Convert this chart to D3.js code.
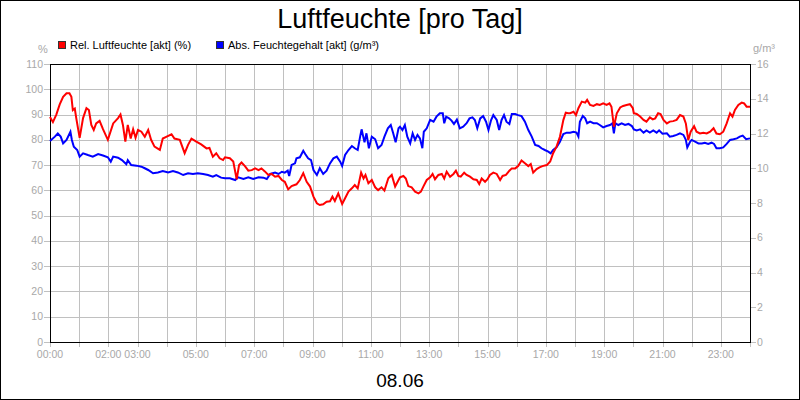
<html>
<head>
<meta charset="utf-8">
<title>Luftfeuchte</title>
<style>
  body { margin: 0; background: #fff; }
  text { font-family: Arial, "Liberation Sans", sans-serif; }
</style>
</head>
<body>
<div id="chart"></div>
<script src="https://cdn.jsdelivr.net/npm/d3@7"></script>
<script>
(function(){
  "use strict";

  var title = "Luftfeuchte [pro Tag]",
      dateLabel = "08.06";

  var seriesNames = ["Rel. Luftfeuchte [akt] (%)", "Abs. Feuchtegehalt [akt] (g/m\u00b3)"];

  // minutes since 00:00 and values
  var relMinutes = [0,6,13,20,27,34,40,44,47,51,54,61,68,75,80,85,90,95,102,109,119,130,140,145,150,155,160,166,171,176,181,188,195,202,208,215,226,232,239,250,256,267,277,284,291,301,311,322,328,335,342,349,356,
    360,370,377,384,389,394,401,408,415,422,429,435,442,449,456,463,470,477,483,490,497,507,514,521,528,535,542,549,555,562,569,576,581,586,593,601,607,614,621,627,633,640,645,649,655,662,669,675,682,688,696,703,710,717,
    720,727,732,737,744,751,758,763,768,775,782,787,792,799,806,811,816,823,830,835,840,845,852,857,864,871,878,883,888,895,900,905,912,919,926,931,938,945,950,957,963,970,977,984,989,994,1001,1007,1013,1022,1029,1035,1042,1049,1056,1061,1066,
    1070,1077,1082,1087,1094,1101,1105,1111,1118,1125,1131,1138,1145,1151,1155,1160,1166,1173,1179,1186,1193,1199,1201,1207,1214,1221,1227,1234,1240,1245,1251,1256,1262,1269,1275,1282,1289,1296,1303,1308,1313,1318,1325,1330,1337,1344,1351,1358,1365,1371,1378,1385,1392,1399,1404,1409,1416,1423,1428,1433,1440];
  var relValues = [89,87,90,94,97,98.4,98.4,97,91.8,92.4,88.6,80.8,88.6,92.5,91.8,85.9,83.9,86.5,87.5,84.2,80,86.5,88.6,90,85.9,79.3,85.9,80.5,84.2,80.8,83.9,83.2,81.2,83.9,80,77.3,76,80.5,81.2,82.2,80.5,80,74.7,78,80.5,79.3,78.2,76.6,76.8,73.3,74.7,72.7,72,
    73.1,72.7,71.4,64.4,70,71,69.6,67.8,68,68.7,68,68.7,67.5,66.1,66.5,65.4,65.7,64.1,63.4,60.4,61.7,62.4,64.1,66.8,63.4,61.5,57.5,54.9,54.2,54.5,55.5,55.7,57.5,55.8,58.8,54.6,56.9,59.5,60.8,62.1,60.8,67,64.7,66.1,62.8,64.1,61.2,60.1,61.2,59.9,64.8,66.1,61.5,64.1,
    65.2,65.7,64.7,61.7,61.2,59.5,58.8,59.5,61.5,64.1,65.2,66.5,64.4,66.1,66.5,64.7,67.4,65.4,66.5,67.8,65.7,65.4,67,66.1,65.4,64.4,64.1,62.5,64.7,63.4,64.4,66.1,67,66.5,64.1,65.7,66.1,67.8,68.7,68.7,69.6,71.8,70.7,69.6,70.4,67,68.4,69.1,69.6,70,71.4,74.7,77.3,81.2,87.8,90.7,90.5,
    90.5,91.1,89.8,92.5,95.1,94.7,95.8,93.8,93.4,94.1,93.8,94.4,93.8,94.4,93.1,85.2,90.5,92.8,93.4,93.8,94.1,92.5,90.5,90.2,89.2,87.9,87.2,88.9,88.1,88.5,90.5,90.2,87.9,86.5,87.2,87.4,87.9,89.8,89.2,86.5,79.9,83.2,85.4,83.2,82.5,82.8,82.5,83.2,84.6,82.5,82.2,83.2,86.5,90.5,89.2,91.8,93.8,94.7,94.4,93.1,93.1];

  var absMinutes = [0,10,16,22,27,34,42,45,49,56,61,68,78,88,99,109,119,125,130,140,148,157,160,167,178,188,195,202,212,222,232,243,253,263,274,284,294,304,315,325,335,342,352,
    360,370,381,387,398,408,418,429,439,446,453,463,470,477,483,489,492,497,504,507,514,521,525,531,537,542,549,555,562,569,576,583,590,597,601,607,614,621,627,633,638,641,647,651,656,662,669,675,682,688,695,701,706,711,717,
    720,725,730,735,741,746,751,756,761,766,769,775,782,789,795,802,808,811,815,821,826,831,837,843,850,857,863,869,874,879,885,891,897,902,907,912,919,924,929,934,939,945,950,957,963,970,977,984,991,998,1005,1011,1018,1025,1030,1035,1042,1049,1056,1063,
    1070,1077,1083,1087,1090,1096,1101,1105,1111,1118,1125,1131,1138,1145,1152,1157,1160,1163,1169,1176,1183,1190,1197,1201,1207,1214,1221,1227,1234,1241,1248,1253,1260,1269,1275,1282,1289,1296,1303,1308,1311,1317,1320,1327,1334,1341,1347,1354,1361,1366,1371,1378,1385,1392,1399,1406,1413,1419,1425,1432,1440];
  var absValues = [11.57,11.82,12.0,11.82,11.43,11.63,12.1,11.63,11.24,11.05,10.67,10.86,10.76,10.67,10.82,10.73,10.63,10.38,10.67,10.61,10.47,10.23,10.47,10.19,10.15,10.09,10.0,9.9,9.71,9.76,9.84,9.76,9.84,9.76,9.61,9.71,9.67,9.71,9.67,9.61,9.51,9.61,9.46,
    9.42,9.42,9.32,9.48,9.38,9.48,9.38,9.48,9.46,9.38,9.67,9.75,9.67,9.8,9.75,9.86,9.55,10.19,10.28,10.57,10.63,11.01,10.82,10.57,10.47,9.9,9.61,10.0,9.67,9.86,10.28,10.57,10.67,10.38,10.13,10.76,11.05,11.28,11.15,11.05,11.82,12.24,11.49,12.01,11.15,11.82,11.67,11.15,11.34,11.82,12.3,12.49,12.01,11.49,12.3,
    12.39,12.2,12.49,11.82,11.43,12.01,11.63,11.92,11.72,11.15,12.1,12.3,12.78,12.68,12.97,13.16,13.16,12.59,12.97,12.87,12.74,12.55,12.8,12.3,12.39,12.59,12.87,12.93,12.78,12.3,12.87,13.0,12.68,12.2,12.74,13.06,12.78,12.2,12.78,13.06,12.68,12.55,13.12,13.12,13.06,13.0,12.68,12.2,11.82,11.34,11.28,11.15,11.05,10.96,10.86,11.05,11.2,11.53,11.97,12.05,
    12.05,12.1,12.05,11.82,12.68,13.01,12.87,12.59,12.68,12.59,12.59,12.49,12.35,12.43,12.49,12.59,12.01,12.59,12.49,12.59,12.49,12.55,12.43,12.24,12.18,12.24,12.05,12.18,12.05,12.18,12.05,12.18,11.99,12.01,11.82,11.86,11.92,12.01,11.92,11.63,11.2,11.53,11.63,11.53,11.43,11.43,11.47,11.4,11.47,11.4,11.15,11.15,11.2,11.4,11.63,11.67,11.72,11.82,11.88,11.67,11.72];

  var xTickLabels = ["00:00","02:00","03:00","05:00","07:00","09:00","11:00","13:00","15:00","17:00","19:00","21:00","23:00"];
  var leftTicks = [0,10,20,30,40,50,60,70,80,90,100,110];
  var rightTicks = [0,2,4,6,8,10,12,14,16];

  var w = 800, h = 400,
      left = 50, right = 750, top = 64, bottom = 342,
      gray = "#a8a8a8", grid = "#c0c0c0";

  var x = d3.scaleLinear().domain([0, 1440]).range([left, right]);
  var yL = d3.scaleLinear().domain([0, 110]).range([bottom, top]);
  var yR = d3.scaleLinear().domain([0, 16]).range([bottom, top]);

  var svg = d3.select("#chart").append("svg")
    .attr("width", w)
    .attr("height", h);

  svg.append("rect")
    .attr("x", 0.5).attr("y", 0.5)
    .attr("width", w - 1).attr("height", h - 1)
    .attr("fill", "#fff").attr("stroke", "#000");

  // grid
  var hours = d3.range(0, 25);
  svg.append("g").selectAll("line")
    .data(hours)
    .enter().append("line")
      .attr("x1", function(d){ return Math.round(x(d * 60)) + 0.5; })
      .attr("x2", function(d){ return Math.round(x(d * 60)) + 0.5; })
      .attr("y1", top).attr("y2", bottom + 5)
      .attr("stroke", grid);

  svg.append("g").selectAll("line")
    .data(leftTicks)
    .enter().append("line")
      .attr("x1", left - 6).attr("x2", right)
      .attr("y1", function(d){ return Math.round(yL(d)) + 0.5; })
      .attr("y2", function(d){ return Math.round(yL(d)) + 0.5; })
      .attr("stroke", grid);

  // left axis labels
  svg.append("g").selectAll("text")
    .data(leftTicks)
    .enter().append("text")
      .attr("x", left - 7)
      .attr("y", function(d){ return yL(d) + 3.5; })
      .attr("text-anchor", "end")
      .attr("font-size", 10.5)
      .attr("fill", gray)
      .text(function(d){ return d; });

  // right axis ticks + labels
  var rg = svg.append("g").selectAll("g")
    .data(rightTicks)
    .enter().append("g");
  rg.append("line")
    .attr("x1", right).attr("x2", right + 6)
    .attr("y1", function(d){ return Math.round(yR(d)) + 0.5; })
    .attr("y2", function(d){ return Math.round(yR(d)) + 0.5; })
    .attr("stroke", grid);
  rg.append("text")
    .attr("x", right + 7)
    .attr("y", function(d){ return yR(d) + 3.5; })
    .attr("font-size", 10.5)
    .attr("fill", gray)
    .text(function(d){ return d; });

  // x labels
  svg.append("g").selectAll("text")
    .data(xTickLabels)
    .enter().append("text")
      .attr("x", function(d){ return x(+d.slice(0, 2) * 60); })
      .attr("y", bottom + 16)
      .attr("text-anchor", "middle")
      .attr("font-size", 10.5)
      .attr("fill", gray)
      .text(function(d){ return d; });

  // frame
  svg.append("rect")
    .attr("x", left + 0.5).attr("y", top + 0.5)
    .attr("width", right - left).attr("height", bottom - top)
    .attr("fill", "none").attr("stroke", "#000");

  // lines
  var relLine = d3.line()
    .x(function(d, i){ return x(relMinutes[i]); })
    .y(function(d){ return yL(d); });
  var absLine = d3.line()
    .x(function(d, i){ return x(absMinutes[i]); })
    .y(function(d){ return yR(d); });

  svg.append("path")
    .attr("d", absLine(absValues))
    .attr("fill", "none").attr("stroke", "#0000ff").attr("stroke-width", 2);
  svg.append("path")
    .attr("d", relLine(relValues))
    .attr("fill", "none").attr("stroke", "#ff0000").attr("stroke-width", 2);

  // titles
  svg.append("text")
    .attr("x", w / 2).attr("y", 28)
    .attr("text-anchor", "middle")
    .attr("font-size", 27)
    .attr("fill", "#000")
    .text(title);

  svg.append("text")
    .attr("x", w / 2).attr("y", 387)
    .attr("text-anchor", "middle")
    .attr("font-size", 19)
    .attr("fill", "#000")
    .text(dateLabel);

  svg.append("text")
    .attr("x", 43).attr("y", 53)
    .attr("text-anchor", "middle")
    .attr("font-size", 11).attr("fill", gray)
    .text("%");
  svg.append("text")
    .attr("x", 753).attr("y", 52)
    .attr("font-size", 11).attr("fill", gray)
    .text("g/m\u00b3");

  // legend
  var legendX = [58, 216], legendColors = ["#ff0000", "#0000ff"];
  var lg = svg.append("g").selectAll("g")
    .data(seriesNames)
    .enter().append("g")
      .attr("transform", function(d, i){ return "translate(" + legendX[i] + ",41)"; });
  lg.append("rect")
    .attr("x", 0.5).attr("y", 0.5)
    .attr("width", 7).attr("height", 7)
    .attr("fill", function(d, i){ return legendColors[i]; })
    .attr("stroke", "#333");
  lg.append("text")
    .attr("x", 12).attr("y", 7.5)
    .attr("font-size", 11).attr("fill", "#000")
    .text(function(d){ return d; });

})();
</script>
</body>
</html>
